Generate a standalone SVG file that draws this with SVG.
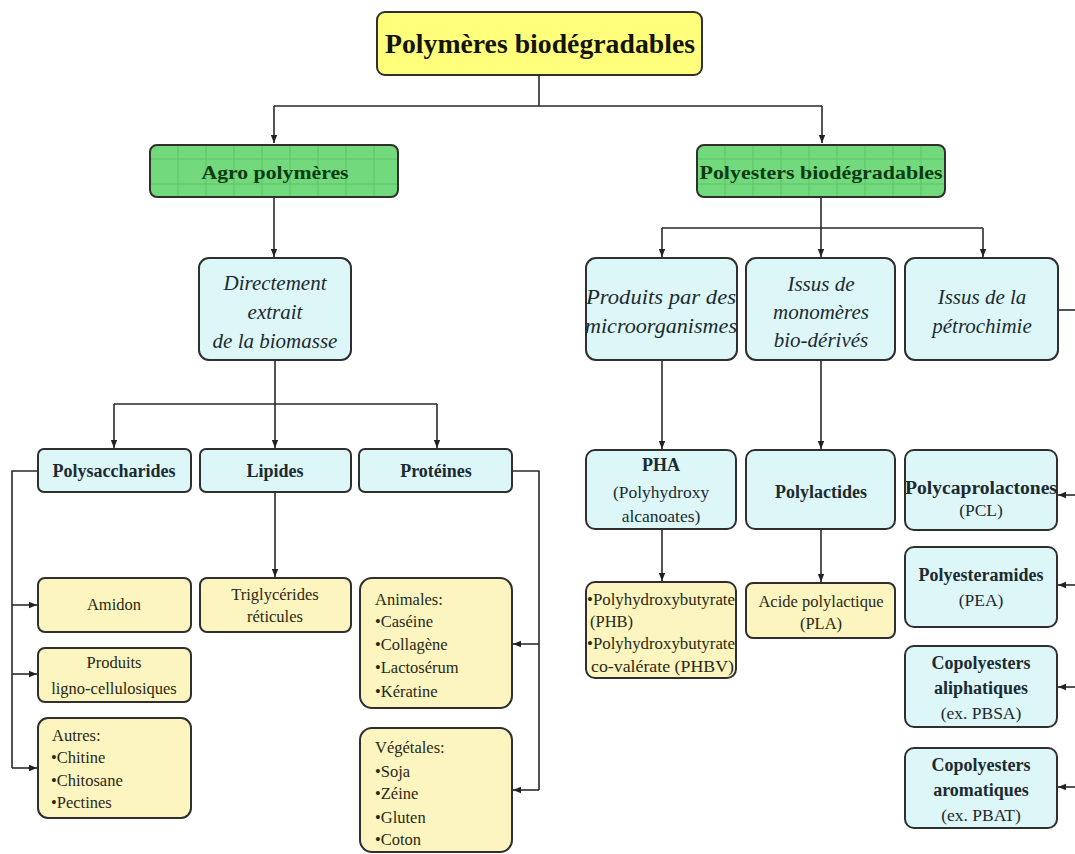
<svg xmlns="http://www.w3.org/2000/svg" width="1075" height="854" viewBox="0 0 1075 854">
<defs>
<marker id="arr" viewBox="0 0 10 10" refX="10" refY="5" markerWidth="8" markerHeight="8" markerUnits="userSpaceOnUse" orient="auto">
<path d="M0,1 L10,5 L0,9 z" fill="#222"/>
</marker>
<style>
.box{stroke:#2f2f2f;stroke-width:2}
.title{fill:#ffff7c}
.green{fill:#72d97c}
.cyan{fill:#ddf7f9}
.yel{fill:#fcf5bf}
.grid{stroke:#3d9e48;stroke-width:1;opacity:0.35}
text{font-family:"Liberation Serif","Times New Roman",serif;fill:#1e1e1e}
.t0{font-size:28px;font-weight:bold;text-anchor:middle;fill:#141400}
.tg{font-size:19.5px;font-weight:bold;text-anchor:middle;fill:#0c3a12}
.ti{font-size:21px;font-style:italic;text-anchor:middle;fill:#1c2a30}
.tb{font-size:18px;font-weight:bold;text-anchor:middle;fill:#1c2a30}
.tc{font-size:17.5px;text-anchor:middle;fill:#1c2a30}
.ty{font-size:16.5px;text-anchor:middle;fill:#2a2814}
.tyl{font-size:16.5px;fill:#2a2814}
.ln{fill:none;stroke:#2a2a2a;stroke-width:1.6}
</style>
</defs>

<g id="connectors" class="ln">
<path d="M539,75 V106 M274,106 H822"/>
<path d="M274,106 V143" marker-end="url(#arr)"/>
<path d="M822,106 V143" marker-end="url(#arr)"/>
<path d="M274,197 V257" marker-end="url(#arr)"/>
<path d="M275,360 V404 M114,404 H437"/>
<path d="M114,404 V448" marker-end="url(#arr)"/>
<path d="M275,404 V448" marker-end="url(#arr)"/>
<path d="M437,404 V448" marker-end="url(#arr)"/>
<path d="M38,471 H12 V768"/>
<path d="M12,605 H37" marker-end="url(#arr)"/>
<path d="M12,674 H37" marker-end="url(#arr)"/>
<path d="M12,768 H37" marker-end="url(#arr)"/>
<path d="M275,492 V577" marker-end="url(#arr)"/>
<path d="M512,471 H539 V790"/>
<path d="M539,644 H513" marker-end="url(#arr)"/>
<path d="M539,790 H513" marker-end="url(#arr)"/>
<path d="M821,197 V228 M662,228 H983"/>
<path d="M662,228 V257" marker-end="url(#arr)"/>
<path d="M821,228 V257" marker-end="url(#arr)"/>
<path d="M983,228 V257" marker-end="url(#arr)"/>
<path d="M662,360 V449" marker-end="url(#arr)"/>
<path d="M821,360 V449" marker-end="url(#arr)"/>
<path d="M662,529 V581" marker-end="url(#arr)"/>
<path d="M821,529 V582" marker-end="url(#arr)"/>
<path d="M1058,310 H1075"/>
<path d="M1075,495 H1058" marker-end="url(#arr)"/>
<path d="M1075,585 H1058" marker-end="url(#arr)"/>
<path d="M1075,687 H1058" marker-end="url(#arr)"/>
<path d="M1075,787 H1058" marker-end="url(#arr)"/>
</g>

<g id="n-title">
<rect class="box title" x="377" y="12" width="325" height="63" rx="8"/>
<text class="t0" x="540" y="53" textLength="310" lengthAdjust="spacingAndGlyphs">Polymères biodégradables</text>
</g>

<g id="n-agro">
<rect class="box green" x="150" y="145" width="248" height="52" rx="7"/>
<path class="grid" d="M178,146 V196 M206,146 V196 M234,146 V196 M262,146 V196 M290,146 V196 M318,146 V196 M346,146 V196 M374,146 V196 M151,159 H397 M151,184 H397"/>
<text class="tg" x="275" y="179" textLength="147" lengthAdjust="spacingAndGlyphs">Agro polymères</text>
</g>

<g id="n-polyesters">
<rect class="box green" x="697" y="145" width="248" height="52" rx="7"/>
<path class="grid" d="M725,146 V196 M753,146 V196 M781,146 V196 M809,146 V196 M837,146 V196 M865,146 V196 M893,146 V196 M921,146 V196 M698,159 H944 M698,184 H944"/>
<text class="tg" x="821" y="179" textLength="243" lengthAdjust="spacingAndGlyphs">Polyesters biodégradables</text>
</g>

<g id="n-directement">
<rect class="box cyan" x="199" y="258" width="152" height="102" rx="10"/>
<text class="ti" x="275" y="290">Directement</text>
<text class="ti" x="275" y="319">extrait</text>
<text class="ti" x="275" y="348">de la biomasse</text>
</g>

<g id="n-produits-micro">
<rect class="box cyan" x="586" y="258" width="151" height="102" rx="10"/>
<text class="ti" x="661" y="304" textLength="150" lengthAdjust="spacingAndGlyphs">Produits par des</text>
<text class="ti" x="661" y="333" textLength="152" lengthAdjust="spacingAndGlyphs">microorganismes</text>
</g>

<g id="n-monomeres">
<rect class="box cyan" x="746" y="258" width="149" height="102" rx="10"/>
<text class="ti" x="821" y="291">Issus de</text>
<text class="ti" x="821" y="319">monomères</text>
<text class="ti" x="821" y="347">bio-dérivés</text>
</g>

<g id="n-petrochimie">
<rect class="box cyan" x="905" y="258" width="153" height="102" rx="10"/>
<text class="ti" x="982" y="304">Issus de la</text>
<text class="ti" x="982" y="333">pétrochimie</text>
</g>

<g id="n-polysaccharides">
<rect class="box cyan" x="38" y="449" width="153" height="43" rx="6"/>
<text class="tb" x="114" y="477">Polysaccharides</text>
</g>

<g id="n-lipides">
<rect class="box cyan" x="200" y="449" width="151" height="43" rx="6"/>
<text class="tb" x="275" y="477">Lipides</text>
</g>

<g id="n-proteines">
<rect class="box cyan" x="359" y="449" width="153" height="43" rx="6"/>
<text class="tb" x="436" y="477">Protéines</text>
</g>

<g id="n-amidon">
<rect class="box yel" x="38" y="578" width="153" height="54" rx="7"/>
<text class="ty" x="114" y="610">Amidon</text>
</g>

<g id="n-ligno">
<rect class="box yel" x="38" y="648" width="153" height="54" rx="7"/>
<text class="ty" x="114" y="668">Produits</text>
<text class="ty" x="114" y="694">ligno-cellulosiques</text>
</g>

<g id="n-autres">
<rect class="box yel" x="38" y="718" width="153" height="100" rx="10"/>
<text class="tyl" x="52" y="741">Autres:</text>
<text class="tyl" x="51" y="763">•Chitine</text>
<text class="tyl" x="51" y="786">•Chitosane</text>
<text class="tyl" x="51" y="808">•Pectines</text>
</g>

<g id="n-triglycerides">
<rect class="box yel" x="200" y="578" width="151" height="54" rx="7"/>
<text class="ty" x="275" y="600">Triglycérides</text>
<text class="ty" x="275" y="622">réticules</text>
</g>

<g id="n-animales">
<rect class="box yel" x="360" y="578" width="152" height="130" rx="12"/>
<text class="tyl" x="375" y="605">Animales:</text>
<text class="tyl" x="375" y="627">•Caséine</text>
<text class="tyl" x="375" y="650">•Collagène</text>
<text class="tyl" x="375" y="673">•Lactosérum</text>
<text class="tyl" x="375" y="697">•Kératine</text>
</g>

<g id="n-vegetales">
<rect class="box yel" x="360" y="728" width="152" height="124" rx="12"/>
<text class="tyl" x="375" y="753">Végétales:</text>
<text class="tyl" x="375" y="777">•Soja</text>
<text class="tyl" x="375" y="799">•Zéine</text>
<text class="tyl" x="375" y="823">•Gluten</text>
<text class="tyl" x="375" y="845">•Coton</text>
</g>

<g id="n-pha">
<rect class="box cyan" x="586" y="450" width="150" height="79" rx="9"/>
<text class="tb" x="661" y="471">PHA</text>
<text class="tc" x="661" y="498">(Polyhydroxy</text>
<text class="tc" x="661" y="522">alcanoates)</text>
</g>

<g id="n-polylactides">
<rect class="box cyan" x="746" y="450" width="149" height="79" rx="9"/>
<text class="tb" x="821" y="498">Polylactides</text>
</g>

<g id="n-pcl">
<rect class="box cyan" x="905" y="450" width="152" height="80" rx="9"/>
<text class="tb" x="981" y="494" textLength="152" lengthAdjust="spacingAndGlyphs">Polycaprolactones</text>
<text class="tc" x="981" y="516">(PCL)</text>
</g>

<g id="n-pea">
<rect class="box cyan" x="905" y="547" width="152" height="80" rx="9"/>
<text class="tb" x="981" y="581">Polyesteramides</text>
<text class="tc" x="981" y="606">(PEA)</text>
</g>

<g id="n-pbsa">
<rect class="box cyan" x="905" y="646" width="152" height="81" rx="9"/>
<text class="tb" x="981" y="669">Copolyesters</text>
<text class="tb" x="981" y="694">aliphatiques</text>
<text class="tc" x="981" y="719">(ex. PBSA)</text>
</g>

<g id="n-pbat">
<rect class="box cyan" x="905" y="748" width="152" height="80" rx="9"/>
<text class="tb" x="981" y="771">Copolyesters</text>
<text class="tb" x="981" y="796">aromatiques</text>
<text class="tc" x="981" y="821">(ex. PBAT)</text>
</g>

<g id="n-phb">
<rect class="box yel" x="586" y="582" width="150" height="96" rx="9"/>
<text class="tyl" x="587" y="605" textLength="148" lengthAdjust="spacingAndGlyphs">•Polyhydroxybutyrate</text>
<text class="tyl" x="590" y="627">(PHB)</text>
<text class="tyl" x="587" y="649" textLength="148" lengthAdjust="spacingAndGlyphs">•Polyhydroxybutyrate</text>
<text class="tyl" x="591" y="672" textLength="143" lengthAdjust="spacingAndGlyphs">co-valérate (PHBV)</text>
</g>

<g id="n-pla">
<rect class="box yel" x="746" y="583" width="149" height="55" rx="7"/>
<text class="ty" x="821" y="607">Acide polylactique</text>
<text class="ty" x="821" y="629">(PLA)</text>
</g>
</svg>
